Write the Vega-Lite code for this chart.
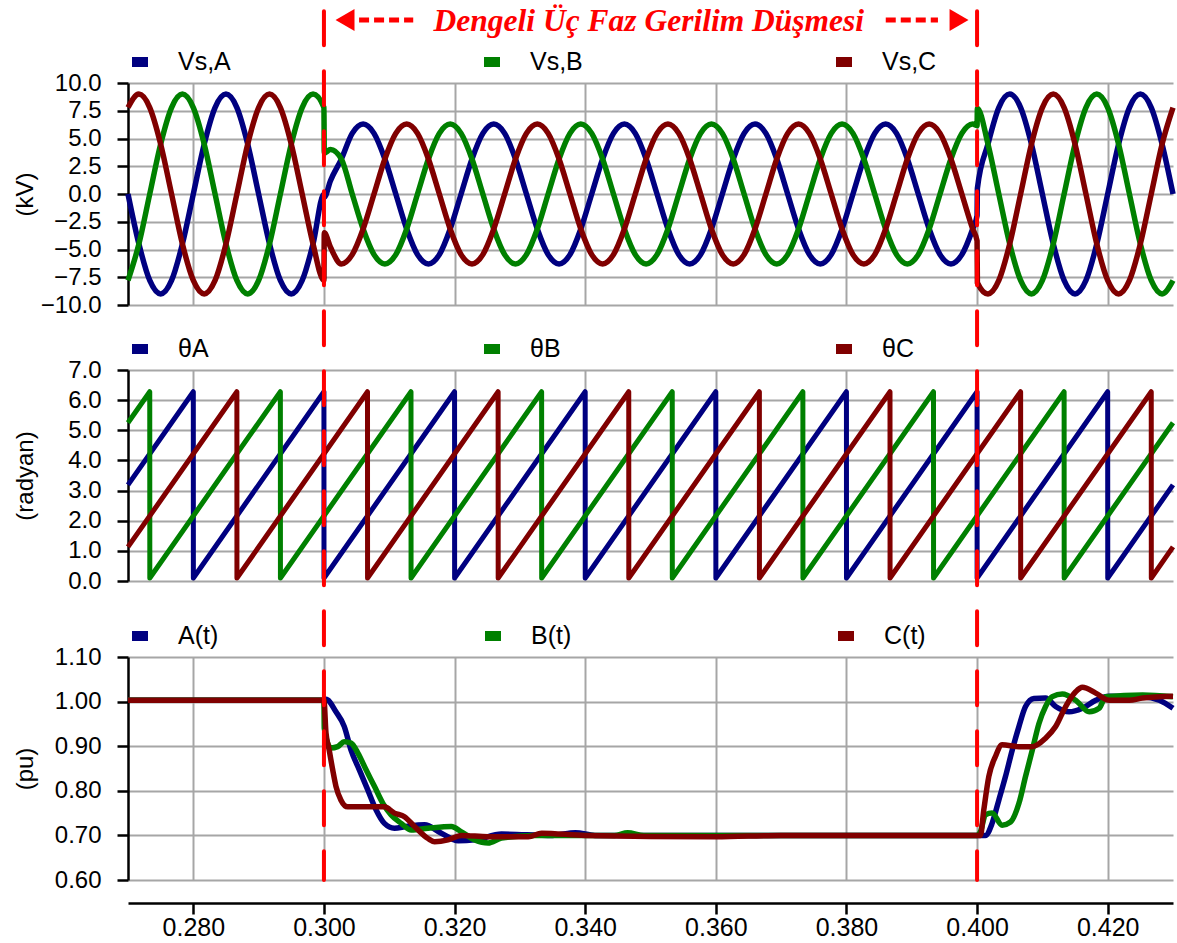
{
  "$schema": "https://vega.github.io/schema/vega-lite/v6.json",
  "padding": {"left": 12, "top": 6, "right": 5, "bottom": 5},
  "background": "white",
  "config": {
    "view": {"stroke": null},
    "font": "Liberation Sans",
    "axis": {
      "labelFont": "Liberation Sans", "labelFontSize": 24, "labelColor": "#000000", "labelOverlap": false,
      "titleFont": "Liberation Sans", "titleFontSize": 24, "titleFontWeight": "normal", "titleColor": "#000000",
      "gridColor": "#a6a6a6", "gridWidth": 2, "gridOpacity": 1,
      "domainColor": "#000000", "domainWidth": 2.5, "tickColor": "#000000", "tickWidth": 2.5, "tickSize": 11
    },
    "legend": {
      "labelFont": "Liberation Sans", "labelFontSize": 25, "labelColor": "#000000",
      "symbolType": "stroke", "symbolStrokeWidth": 10, "symbolSize": 256, "labelOffset": 25,
      "columnPadding": 233, "padding": 0
    }
  },
  "datasets": {
    "volt": [
      {"t":0.27,"A":0,"B":-7.79,"C":7.79},
      {"t":0.27167,"A":-4.5,"B":-4.5,"C":9},
      {"t":0.27333,"A":-7.79,"B":0,"C":7.79},
      {"t":0.275,"A":-9,"B":4.5,"C":4.5},
      {"t":0.27667,"A":-7.79,"B":7.79,"C":0},
      {"t":0.27833,"A":-4.5,"B":9,"C":-4.5},
      {"t":0.28,"A":0,"B":7.79,"C":-7.79},
      {"t":0.28167,"A":4.5,"B":4.5,"C":-9},
      {"t":0.28333,"A":7.79,"B":0,"C":-7.79},
      {"t":0.285,"A":9,"B":-4.5,"C":-4.5},
      {"t":0.28667,"A":7.79,"B":-7.79,"C":0},
      {"t":0.28833,"A":4.5,"B":-9,"C":4.5},
      {"t":0.29,"A":0,"B":-7.79,"C":7.79},
      {"t":0.29167,"A":-4.5,"B":-4.5,"C":9},
      {"t":0.29333,"A":-7.79,"B":0,"C":7.79},
      {"t":0.295,"A":-9,"B":4.5,"C":4.5},
      {"t":0.29667,"A":-7.79,"B":7.79,"C":0},
      {"t":0.29833,"A":-4.5,"B":9,"C":-4.5},
      {"t":0.3,"A":0,"B":7.79,"C":-7.79},
      {"t":0.30005,"A":-0.3,"B":3.7,"C":-3.5},
      {"t":0.301,"A":1.2,"B":4.0,"C":-4.8},
      {"t":0.30267,"A":3.15,"B":3.15,"C":-6.3},
      {"t":0.30433,"A":5.46,"B":0,"C":-5.46},
      {"t":0.306,"A":6.3,"B":-3.15,"C":-3.15},
      {"t":0.30767,"A":5.46,"B":-5.46,"C":0},
      {"t":0.30933,"A":3.15,"B":-6.3,"C":3.15},
      {"t":0.311,"A":0,"B":-5.46,"C":5.46},
      {"t":0.31267,"A":-3.15,"B":-3.15,"C":6.3},
      {"t":0.31433,"A":-5.46,"B":0,"C":5.46},
      {"t":0.316,"A":-6.3,"B":3.15,"C":3.15},
      {"t":0.31767,"A":-5.46,"B":5.46,"C":0},
      {"t":0.31933,"A":-3.15,"B":6.3,"C":-3.15},
      {"t":0.321,"A":0,"B":5.46,"C":-5.46},
      {"t":0.32267,"A":3.15,"B":3.15,"C":-6.3},
      {"t":0.32433,"A":5.46,"B":0,"C":-5.46},
      {"t":0.326,"A":6.3,"B":-3.15,"C":-3.15},
      {"t":0.32767,"A":5.46,"B":-5.46,"C":0},
      {"t":0.32933,"A":3.15,"B":-6.3,"C":3.15},
      {"t":0.331,"A":0,"B":-5.46,"C":5.46},
      {"t":0.33267,"A":-3.15,"B":-3.15,"C":6.3},
      {"t":0.33433,"A":-5.46,"B":0,"C":5.46},
      {"t":0.336,"A":-6.3,"B":3.15,"C":3.15},
      {"t":0.33767,"A":-5.46,"B":5.46,"C":0},
      {"t":0.33933,"A":-3.15,"B":6.3,"C":-3.15},
      {"t":0.341,"A":0,"B":5.46,"C":-5.46},
      {"t":0.34267,"A":3.15,"B":3.15,"C":-6.3},
      {"t":0.34433,"A":5.46,"B":0,"C":-5.46},
      {"t":0.346,"A":6.3,"B":-3.15,"C":-3.15},
      {"t":0.34767,"A":5.46,"B":-5.46,"C":0},
      {"t":0.34933,"A":3.15,"B":-6.3,"C":3.15},
      {"t":0.351,"A":0,"B":-5.46,"C":5.46},
      {"t":0.35267,"A":-3.15,"B":-3.15,"C":6.3},
      {"t":0.35433,"A":-5.46,"B":0,"C":5.46},
      {"t":0.356,"A":-6.3,"B":3.15,"C":3.15},
      {"t":0.35767,"A":-5.46,"B":5.46,"C":0},
      {"t":0.35933,"A":-3.15,"B":6.3,"C":-3.15},
      {"t":0.361,"A":0,"B":5.46,"C":-5.46},
      {"t":0.36267,"A":3.15,"B":3.15,"C":-6.3},
      {"t":0.36433,"A":5.46,"B":0,"C":-5.46},
      {"t":0.366,"A":6.3,"B":-3.15,"C":-3.15},
      {"t":0.36767,"A":5.46,"B":-5.46,"C":0},
      {"t":0.36933,"A":3.15,"B":-6.3,"C":3.15},
      {"t":0.371,"A":0,"B":-5.46,"C":5.46},
      {"t":0.37267,"A":-3.15,"B":-3.15,"C":6.3},
      {"t":0.37433,"A":-5.46,"B":0,"C":5.46},
      {"t":0.376,"A":-6.3,"B":3.15,"C":3.15},
      {"t":0.37767,"A":-5.46,"B":5.46,"C":0},
      {"t":0.37933,"A":-3.15,"B":6.3,"C":-3.15},
      {"t":0.381,"A":0,"B":5.46,"C":-5.46},
      {"t":0.38267,"A":3.15,"B":3.15,"C":-6.3},
      {"t":0.38433,"A":5.46,"B":0,"C":-5.46},
      {"t":0.386,"A":6.3,"B":-3.15,"C":-3.15},
      {"t":0.38767,"A":5.46,"B":-5.46,"C":0},
      {"t":0.38933,"A":3.15,"B":-6.3,"C":3.15},
      {"t":0.391,"A":0,"B":-5.46,"C":5.46},
      {"t":0.39267,"A":-3.15,"B":-3.15,"C":6.3},
      {"t":0.39433,"A":-5.46,"B":0,"C":5.46},
      {"t":0.396,"A":-6.3,"B":3.15,"C":3.15},
      {"t":0.39767,"A":-5.46,"B":5.46,"C":0},
      {"t":0.39933,"A":-3.15,"B":6.3,"C":-3.15},
      {"t":0.4,"A":-1.95,"B":6.16,"C":-4.22},
      {"t":0.40005,"A":0.5,"B":7.7,"C":-8.0},
      {"t":0.40167,"A":4.5,"B":4.5,"C":-9},
      {"t":0.40333,"A":7.79,"B":0,"C":-7.79},
      {"t":0.405,"A":9,"B":-4.5,"C":-4.5},
      {"t":0.40667,"A":7.79,"B":-7.79,"C":0},
      {"t":0.40833,"A":4.5,"B":-9,"C":4.5},
      {"t":0.41,"A":0,"B":-7.79,"C":7.79},
      {"t":0.41167,"A":-4.5,"B":-4.5,"C":9},
      {"t":0.41333,"A":-7.79,"B":0,"C":7.79},
      {"t":0.415,"A":-9,"B":4.5,"C":4.5},
      {"t":0.41667,"A":-7.79,"B":7.79,"C":0},
      {"t":0.41833,"A":-4.5,"B":9,"C":-4.5},
      {"t":0.42,"A":0,"B":7.79,"C":-7.79},
      {"t":0.42167,"A":4.5,"B":4.5,"C":-9},
      {"t":0.42333,"A":7.79,"B":0,"C":-7.79},
      {"t":0.425,"A":9,"B":-4.5,"C":-4.5},
      {"t":0.42667,"A":7.79,"B":-7.79,"C":0},
      {"t":0.42833,"A":4.5,"B":-9,"C":4.5},
      {"t":0.43,"A":0,"B":-7.79,"C":7.79}
    ],
    "theta": [
      {"t":0.27,"s":"A","v":3.19},{"t":0.28,"s":"A","v":6.28},{"t":0.28001,"s":"A","v":0.1},
      {"t":0.3,"s":"A","v":6.28},{"t":0.30001,"s":"A","v":0.1},
      {"t":0.32,"s":"A","v":6.28},{"t":0.32001,"s":"A","v":0.1},
      {"t":0.34,"s":"A","v":6.28},{"t":0.34001,"s":"A","v":0.1},
      {"t":0.36,"s":"A","v":6.28},{"t":0.36001,"s":"A","v":0.1},
      {"t":0.38,"s":"A","v":6.28},{"t":0.38001,"s":"A","v":0.1},
      {"t":0.4,"s":"A","v":6.28},{"t":0.40001,"s":"A","v":0.1},
      {"t":0.42,"s":"A","v":6.28},{"t":0.42001,"s":"A","v":0.1},
      {"t":0.43,"s":"A","v":3.19},
      {"t":0.27,"s":"B","v":5.25},{"t":0.27333,"s":"B","v":6.28},{"t":0.27334,"s":"B","v":0.1},
      {"t":0.29333,"s":"B","v":6.28},{"t":0.29334,"s":"B","v":0.1},
      {"t":0.31333,"s":"B","v":6.28},{"t":0.31334,"s":"B","v":0.1},
      {"t":0.33333,"s":"B","v":6.28},{"t":0.33334,"s":"B","v":0.1},
      {"t":0.35333,"s":"B","v":6.28},{"t":0.35334,"s":"B","v":0.1},
      {"t":0.37333,"s":"B","v":6.28},{"t":0.37334,"s":"B","v":0.1},
      {"t":0.39333,"s":"B","v":6.28},{"t":0.39334,"s":"B","v":0.1},
      {"t":0.41333,"s":"B","v":6.28},{"t":0.41334,"s":"B","v":0.1},
      {"t":0.43,"s":"B","v":5.25},
      {"t":0.27,"s":"C","v":1.13},{"t":0.28667,"s":"C","v":6.28},{"t":0.28668,"s":"C","v":0.1},
      {"t":0.30667,"s":"C","v":6.28},{"t":0.30668,"s":"C","v":0.1},
      {"t":0.32667,"s":"C","v":6.28},{"t":0.32668,"s":"C","v":0.1},
      {"t":0.34667,"s":"C","v":6.28},{"t":0.34668,"s":"C","v":0.1},
      {"t":0.36667,"s":"C","v":6.28},{"t":0.36668,"s":"C","v":0.1},
      {"t":0.38667,"s":"C","v":6.28},{"t":0.38668,"s":"C","v":0.1},
      {"t":0.40667,"s":"C","v":6.28},{"t":0.40668,"s":"C","v":0.1},
      {"t":0.42667,"s":"C","v":6.28},{"t":0.42668,"s":"C","v":0.1},
      {"t":0.43,"s":"C","v":1.13}
    ],
    "amp": [
      {"t":0.27,"s":"A","v":1.003},{"t":0.3,"s":"A","v":1.003},{"t":0.30031,"s":"A","v":1.005},
      {"t":0.30184,"s":"A","v":0.977},{"t":0.30312,"s":"A","v":0.944},{"t":0.30415,"s":"A","v":0.891},
      {"t":0.30542,"s":"A","v":0.847},{"t":0.30671,"s":"A","v":0.802},{"t":0.30799,"s":"A","v":0.757},
      {"t":0.30926,"s":"A","v":0.727},{"t":0.3108,"s":"A","v":0.716},{"t":0.3126,"s":"A","v":0.72},
      {"t":0.3154,"s":"A","v":0.724},{"t":0.31797,"s":"A","v":0.705},{"t":0.32054,"s":"A","v":0.688},
      {"t":0.32309,"s":"A","v":0.69},{"t":0.32719,"s":"A","v":0.703},{"t":0.335,"s":"A","v":0.7},
      {"t":0.3385,"s":"A","v":0.706},{"t":0.3415,"s":"A","v":0.7},{"t":0.4,"s":"A","v":0.7},
      {"t":0.40127,"s":"A","v":0.7},{"t":0.4023,"s":"A","v":0.727},{"t":0.40333,"s":"A","v":0.779},
      {"t":0.40435,"s":"A","v":0.832},{"t":0.40538,"s":"A","v":0.891},{"t":0.40641,"s":"A","v":0.944},
      {"t":0.40742,"s":"A","v":0.989},{"t":0.40871,"s":"A","v":1.007},{"t":0.41049,"s":"A","v":1.008},
      {"t":0.41203,"s":"A","v":0.989},{"t":0.41409,"s":"A","v":0.977},{"t":0.41613,"s":"A","v":0.985},
      {"t":0.41817,"s":"A","v":1.003},{"t":0.42023,"s":"A","v":1.012},{"t":0.42535,"s":"A","v":1.011},
      {"t":0.42791,"s":"A","v":1.003},{"t":0.43,"s":"A","v":0.985},
      {"t":0.27,"s":"B","v":1.003},{"t":0.3,"s":"B","v":1.003},{"t":0.30005,"s":"B","v":0.94},
      {"t":0.30108,"s":"B","v":0.896},{"t":0.3021,"s":"B","v":0.899},{"t":0.30312,"s":"B","v":0.91},
      {"t":0.30415,"s":"B","v":0.907},{"t":0.30518,"s":"B","v":0.885},{"t":0.30645,"s":"B","v":0.847},
      {"t":0.30773,"s":"B","v":0.81},{"t":0.30902,"s":"B","v":0.772},{"t":0.31029,"s":"B","v":0.746},
      {"t":0.31183,"s":"B","v":0.727},{"t":0.31336,"s":"B","v":0.712},{"t":0.31593,"s":"B","v":0.716},
      {"t":0.31951,"s":"B","v":0.72},{"t":0.32104,"s":"B","v":0.708},{"t":0.32309,"s":"B","v":0.69},
      {"t":0.32514,"s":"B","v":0.683},{"t":0.32719,"s":"B","v":0.694},{"t":0.33226,"s":"B","v":0.7},
      {"t":0.3445,"s":"B","v":0.7},{"t":0.3465,"s":"B","v":0.706},{"t":0.349,"s":"B","v":0.7},
      {"t":0.4,"s":"B","v":0.7},{"t":0.40051,"s":"B","v":0.708},{"t":0.40127,"s":"B","v":0.746},
      {"t":0.4023,"s":"B","v":0.75},{"t":0.40384,"s":"B","v":0.723},{"t":0.40512,"s":"B","v":0.73},
      {"t":0.40641,"s":"B","v":0.772},{"t":0.40742,"s":"B","v":0.832},{"t":0.40845,"s":"B","v":0.891},
      {"t":0.40948,"s":"B","v":0.951},{"t":0.41049,"s":"B","v":0.989},{"t":0.41152,"s":"B","v":1.011},
      {"t":0.41306,"s":"B","v":1.017},{"t":0.4151,"s":"B","v":1.003},{"t":0.41716,"s":"B","v":0.977},
      {"t":0.41869,"s":"B","v":0.985},{"t":0.41971,"s":"B","v":1.011},{"t":0.42535,"s":"B","v":1.015},
      {"t":0.43,"s":"B","v":1.011},
      {"t":0.27,"s":"C","v":1.003},{"t":0.3,"s":"C","v":1.003},{"t":0.30031,"s":"C","v":0.93},
      {"t":0.30081,"s":"C","v":0.891},{"t":0.30134,"s":"C","v":0.847},{"t":0.30184,"s":"C","v":0.81},
      {"t":0.30261,"s":"C","v":0.779},{"t":0.30364,"s":"C","v":0.764},{"t":0.30926,"s":"C","v":0.764},
      {"t":0.3108,"s":"C","v":0.75},{"t":0.31233,"s":"C","v":0.742},{"t":0.31387,"s":"C","v":0.72},
      {"t":0.31593,"s":"C","v":0.693},{"t":0.31694,"s":"C","v":0.686},{"t":0.319,"s":"C","v":0.69},
      {"t":0.32104,"s":"C","v":0.7},{"t":0.32514,"s":"C","v":0.697},{"t":0.33129,"s":"C","v":0.697},
      {"t":0.33333,"s":"C","v":0.705},{"t":0.34,"s":"C","v":0.7},{"t":0.36,"s":"C","v":0.697},
      {"t":0.37,"s":"C","v":0.7},{"t":0.4,"s":"C","v":0.7},{"t":0.40051,"s":"C","v":0.7},
      {"t":0.40103,"s":"C","v":0.757},{"t":0.4018,"s":"C","v":0.832},{"t":0.40281,"s":"C","v":0.877},
      {"t":0.40384,"s":"C","v":0.903},{"t":0.40641,"s":"C","v":0.899},{"t":0.40845,"s":"C","v":0.899},
      {"t":0.41049,"s":"C","v":0.918},{"t":0.41203,"s":"C","v":0.944},{"t":0.41356,"s":"C","v":0.989},
      {"t":0.4151,"s":"C","v":1.022},{"t":0.41613,"s":"C","v":1.032},{"t":0.41817,"s":"C","v":1.019},
      {"t":0.42023,"s":"C","v":1.003},{"t":0.4233,"s":"C","v":1.003},{"t":0.42535,"s":"C","v":1.008},
      {"t":0.43,"s":"C","v":1.012}
    ]
  },
  "bounds": "flush",
  "spacing": 65,
  "resolve": {"scale": {"color": "independent"}, "legend": {"color": "independent"}},
  "vconcat": [
    {
      "width": 1045, "height": 222,
      "encoding": {
        "x": {"type": "quantitative",
              "scale": {"domain": [0.27, 0.43], "nice": false, "zero": false},
              "axis": {"values": [0.28, 0.3, 0.32, 0.34, 0.36, 0.38, 0.4, 0.42], "labels": false, "ticks": false, "domain": false, "grid": true, "title": null}},
        "y": {"type": "quantitative",
              "scale": {"domain": [-10, 10], "nice": false, "zero": false},
              "axis": {"values": [-10, -7.5, -5, -2.5, 0, 2.5, 5, 7.5, 10], "format": ".1f", "labelOverlap": false, "title": "(kV)", "titleX": -103, "titleBaseline": "middle", "labelPadding": 16}}
      },
      "layer": [
        {
          "data": {"name": "volt"},
          "transform": [{"fold": ["A", "B", "C"], "as": ["s", "v"]}],
          "mark": {"type": "line", "interpolate": "monotone", "strokeWidth": 5.5, "clip": false},
          "encoding": {
            "x": {"field": "t", "type": "quantitative",
                  "scale": {"domain": [0.27, 0.43], "nice": false, "zero": false},
                  "axis": {"values": [0.28, 0.3, 0.32, 0.34, 0.36, 0.38, 0.4, 0.42], "labels": false, "ticks": false, "domain": false, "grid": true, "title": null}},
            "y": {"field": "v", "type": "quantitative",
                  "scale": {"domain": [-10, 10], "nice": false, "zero": false},
                  "axis": {"values": [-10, -7.5, -5, -2.5, 0, 2.5, 5, 7.5, 10], "format": ".1f", "labelOverlap": false, "title": "(kV)", "titleX": -103, "titleBaseline": "middle", "labelPadding": 16}},
            "color": {"field": "s", "type": "nominal",
                      "scale": {"domain": ["A", "B", "C"], "range": ["#000080", "#008000", "#800000"]},
                      "legend": {"title": null, "orient": "none", "legendX": -1, "legendY": -34, "direction": "horizontal", "columnPadding": 233, "symbolStrokeWidth": 10, "labelExpr": "'Vs,' + datum.label",
                                 "encode": {"symbols": {"update": {"strokeWidth": {"value": 10}}}}}}
          }
        },
        {
          "data": {"values": [{}]},
          "mark": {"type": "text", "text": "Dengeli Üç Faz Gerilim Düşmesi", "font": "Liberation Serif", "fontSize": 31.5, "fontWeight": "bold", "fontStyle": "italic", "color": "#ff0000", "align": "center", "baseline": "alphabetic", "clip": false},
          "encoding": {
            "x": {"datum": 0.34975, "type": "quantitative", "scale": {"domain": [0.27, 0.43], "nice": false, "zero": false}, "axis": {"values": [0.28, 0.3, 0.32, 0.34, 0.36, 0.38, 0.4, 0.42], "labels": false, "ticks": false, "domain": false, "grid": true, "title": null}},
            "y": {"datum": 14.68, "type": "quantitative", "scale": {"domain": [-10, 10], "nice": false, "zero": false}, "axis": {"values": [-10, -7.5, -5, -2.5, 0, 2.5, 5, 7.5, 10], "format": ".1f", "labelOverlap": false, "title": "(kV)", "titleX": -103, "titleBaseline": "middle", "labelPadding": 16}}
          }
        },
        {
          "data": {"values": [{}]},
          "mark": {"type": "rule", "color": "#ff0000", "strokeWidth": 5, "strokeDash": [10, 5], "clip": false},
          "encoding": {
            "x": {"datum": 0.30538, "type": "quantitative", "scale": {"domain": [0.27, 0.43], "nice": false, "zero": false}, "axis": {"values": [0.28, 0.3, 0.32, 0.34, 0.36, 0.38, 0.4, 0.42], "labels": false, "ticks": false, "domain": false, "grid": true, "title": null}},
            "x2": {"datum": 0.31367},
            "y": {"datum": 15.68, "type": "quantitative", "scale": {"domain": [-10, 10], "nice": false, "zero": false}, "axis": {"values": [-10, -7.5, -5, -2.5, 0, 2.5, 5, 7.5, 10], "format": ".1f", "labelOverlap": false, "title": "(kV)", "titleX": -103, "titleBaseline": "middle", "labelPadding": 16}}
          }
        },
        {
          "data": {"values": [{}]},
          "mark": {"type": "rule", "color": "#ff0000", "strokeWidth": 5, "strokeDash": [10, 5], "clip": false},
          "encoding": {
            "x": {"datum": 0.38602, "type": "quantitative", "scale": {"domain": [0.27, 0.43], "nice": false, "zero": false}, "axis": {"values": [0.28, 0.3, 0.32, 0.34, 0.36, 0.38, 0.4, 0.42], "labels": false, "ticks": false, "domain": false, "grid": true, "title": null}},
            "x2": {"datum": 0.39401},
            "y": {"datum": 15.68, "type": "quantitative", "scale": {"domain": [-10, 10], "nice": false, "zero": false}, "axis": {"values": [-10, -7.5, -5, -2.5, 0, 2.5, 5, 7.5, 10], "format": ".1f", "labelOverlap": false, "title": "(kV)", "titleX": -103, "titleBaseline": "middle", "labelPadding": 16}}
          }
        },
        {
          "data": {"values": [{}]},
          "mark": {"type": "point", "shape": "triangle-left", "filled": true, "color": "#ff0000", "size": 480, "opacity": 1, "clip": false},
          "encoding": {
            "x": {"datum": 0.30323, "type": "quantitative", "scale": {"domain": [0.27, 0.43], "nice": false, "zero": false}, "axis": {"values": [0.28, 0.3, 0.32, 0.34, 0.36, 0.38, 0.4, 0.42], "labels": false, "ticks": false, "domain": false, "grid": true, "title": null}},
            "y": {"datum": 15.68, "type": "quantitative", "scale": {"domain": [-10, 10], "nice": false, "zero": false}, "axis": {"values": [-10, -7.5, -5, -2.5, 0, 2.5, 5, 7.5, 10], "format": ".1f", "labelOverlap": false, "title": "(kV)", "titleX": -103, "titleBaseline": "middle", "labelPadding": 16}}
          }
        },
        {
          "data": {"values": [{}]},
          "mark": {"type": "point", "shape": "triangle-right", "filled": true, "color": "#ff0000", "size": 480, "opacity": 1, "clip": false},
          "encoding": {
            "x": {"datum": 0.39724, "type": "quantitative", "scale": {"domain": [0.27, 0.43], "nice": false, "zero": false}, "axis": {"values": [0.28, 0.3, 0.32, 0.34, 0.36, 0.38, 0.4, 0.42], "labels": false, "ticks": false, "domain": false, "grid": true, "title": null}},
            "y": {"datum": 15.68, "type": "quantitative", "scale": {"domain": [-10, 10], "nice": false, "zero": false}, "axis": {"values": [-10, -7.5, -5, -2.5, 0, 2.5, 5, 7.5, 10], "format": ".1f", "labelOverlap": false, "title": "(kV)", "titleX": -103, "titleBaseline": "middle", "labelPadding": 16}}
          }
        }
      ]
    },
    {
      "bounds": "flush",
      "spacing": 76,
      "resolve": {"scale": {"color": "independent"}, "legend": {"color": "independent"}},
      "vconcat": [
        {
          "width": 1045, "height": 211,
          "data": {"name": "theta"},
          "mark": {"type": "line", "strokeWidth": 5, "strokeJoin": "round", "clip": false},
          "encoding": {
            "x": {"field": "t", "type": "quantitative",
                  "scale": {"domain": [0.27, 0.43], "nice": false, "zero": false},
                  "axis": {"values": [0.28, 0.3, 0.32, 0.34, 0.36, 0.38, 0.4, 0.42], "labels": false, "ticks": false, "domain": false, "grid": true, "title": null}},
            "y": {"field": "v", "type": "quantitative",
                  "scale": {"domain": [0, 7], "nice": false, "zero": false},
                  "axis": {"values": [0, 1, 2, 3, 4, 5, 6, 7], "format": ".1f", "labelOverlap": false, "title": "(radyan)", "titleX": -103, "titleBaseline": "middle", "labelPadding": 16}},
            "color": {"field": "s", "type": "nominal",
                      "scale": {"domain": ["A", "B", "C"], "range": ["#000080", "#008000", "#800000"]},
                      "legend": {"title": null, "orient": "none", "legendX": -1, "legendY": -34, "direction": "horizontal", "columnPadding": 255, "symbolStrokeWidth": 10, "labelExpr": "'θ' + datum.label",
                                 "encode": {"symbols": {"update": {"strokeWidth": {"value": 10}}}}}}
          }
        },
        {
          "width": 1045, "height": 223,
          "layer": [
            {
              "data": {"name": "amp"},
              "mark": {"type": "line", "interpolate": "monotone", "strokeWidth": 5.5, "clip": false},
              "encoding": {
                "x": {"field": "t", "type": "quantitative",
                      "scale": {"domain": [0.27, 0.43], "nice": false, "zero": false},
                      "axis": {"values": [0.28, 0.3, 0.32, 0.34, 0.36, 0.38, 0.4, 0.42], "format": ".3f", "grid": true, "title": null, "offset": 23, "labelPadding": 1, "labelFontSize": 25}},
                "y": {"field": "v", "type": "quantitative",
                      "scale": {"domain": [0.6, 1.1], "nice": false, "zero": false},
                      "axis": {"values": [0.6, 0.7, 0.8, 0.9, 1.0, 1.1], "format": ".2f", "labelOverlap": false, "title": "(pu)", "titleX": -103, "titleBaseline": "middle", "labelPadding": 16}},
                "color": {"field": "s", "type": "nominal",
                          "scale": {"domain": ["A", "B", "C"], "range": ["#000080", "#008000", "#800000"]},
                          "legend": {"title": null, "orient": "none", "legendX": -1, "legendY": -34, "direction": "horizontal", "columnPadding": 246, "symbolStrokeWidth": 10, "labelExpr": "datum.label + '(t)'",
                                     "encode": {"symbols": {"update": {"strokeWidth": {"value": 10}}}}}}
              }
            },
            {
              "data": {"values": [{"t": 0.3}, {"t": 0.4}]},
              "mark": {"type": "rule", "color": "#ff0000", "strokeWidth": 4, "strokeDash": [34, 26], "strokeCap": "round", "clip": false},
              "encoding": {
                "x": {"field": "t", "type": "quantitative",
                      "scale": {"domain": [0.27, 0.43], "nice": false, "zero": false},
                      "axis": {"values": [0.28, 0.3, 0.32, 0.34, 0.36, 0.38, 0.4, 0.42], "format": ".3f", "grid": true, "title": null, "offset": 23, "labelPadding": 1, "labelFontSize": 25}},
                "y": {"datum": 2.548, "type": "quantitative",
                      "scale": {"domain": [0.6, 1.1], "nice": false, "zero": false},
                      "axis": {"values": [0.6, 0.7, 0.8, 0.9, 1.0, 1.1], "format": ".2f", "labelOverlap": false, "title": "(pu)", "titleX": -103, "titleBaseline": "middle", "labelPadding": 16}},
                "y2": {"datum": 0.6}
              }
            }
          ]
        }
      ]
    }
  ]
}
